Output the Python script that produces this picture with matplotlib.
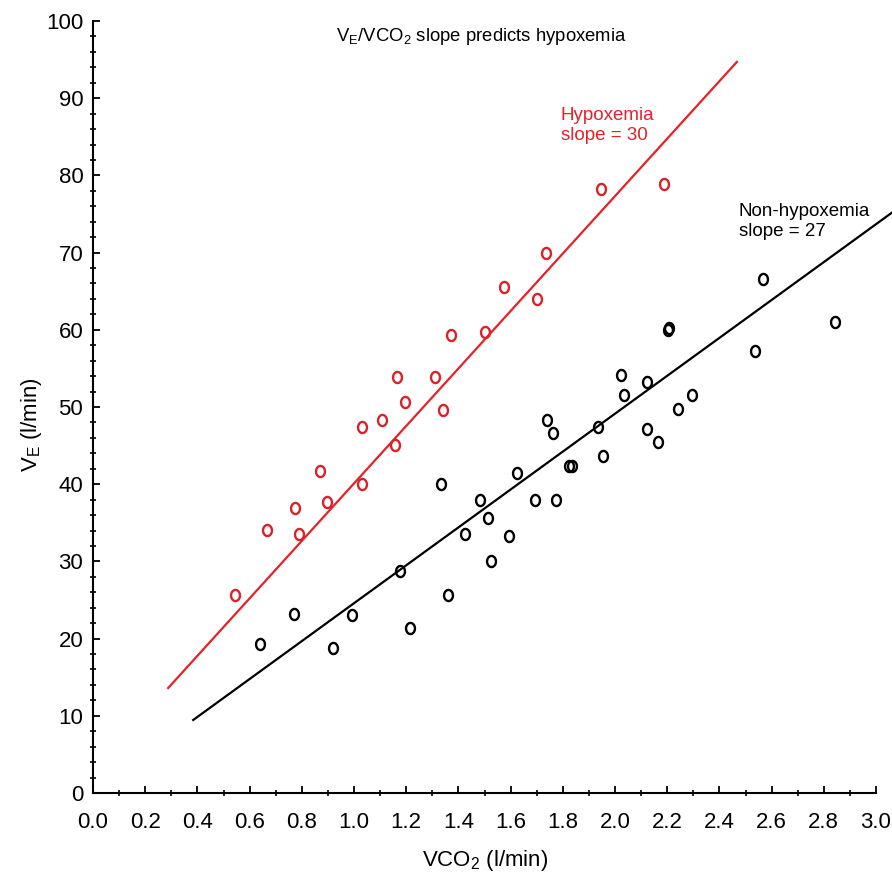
import numpy as np
import matplotlib
matplotlib.use("Agg")
import matplotlib.pyplot as plt
from matplotlib.path import Path
from matplotlib.ticker import MultipleLocator, FormatStrFormatter

# ---------- data ----------
# Hypoxemia group (red)
hyp_x = [0.543, 0.667, 0.774, 0.790, 0.868, 0.898, 1.031, 1.031, 1.107, 1.157,
         1.164, 1.194, 1.310, 1.342, 1.370, 1.502, 1.575, 1.703, 1.735, 1.946, 2.189]
hyp_y = [25.7, 34.1, 36.9, 33.6, 41.7, 37.7, 40.0, 47.4, 48.3, 45.1,
         53.9, 50.6, 53.9, 49.6, 59.3, 59.7, 65.5, 64.0, 70.0, 78.2, 78.9]

# Non-hypoxemia group (black)
non_x = [0.641, 0.769, 0.920, 0.992, 1.175, 1.214, 1.332, 1.360, 1.424, 1.483,
         1.514, 1.524, 1.594, 1.624, 1.694, 1.741, 1.763, 1.774, 1.825, 1.834,
         1.935, 1.954, 2.024, 2.035, 2.124, 2.124, 2.165, 2.203, 2.205, 2.243,
         2.294, 2.537, 2.568, 2.844]
non_y = [19.3, 23.2, 18.8, 23.1, 28.7, 21.4, 40.0, 25.6, 33.5, 38.0,
         35.6, 30.1, 33.3, 41.4, 37.9, 48.3, 46.6, 38.0, 42.3, 42.3,
         47.4, 43.6, 54.1, 51.6, 53.3, 47.1, 45.5, 60.0, 60.2, 49.7,
         51.5, 57.3, 66.6, 61.0]

# regression lines (end points as drawn)
hyp_line_x = [0.288, 2.467]
hyp_line_y = [13.6, 94.7]
non_line_x = [0.384, 3.066]
non_line_y = [9.46, 75.3]

RED = "#e8202a"
NARROW = ["Liberation Sans Narrow", "Liberation Sans", "DejaVu Sans"]
REG = ["Liberation Sans", "DejaVu Sans"]

plt.rcParams["font.family"] = NARROW

# slightly tall open "o" marker
t = np.linspace(0, 2 * np.pi, 60)
oval = Path(np.column_stack([0.8 * np.cos(t), np.sin(t)]), closed=True)

W, H = 892, 874
fig = plt.figure(figsize=(W / 100, H / 100), dpi=100)
ax = fig.add_axes([93 / W, 1 - 793 / H, (876 - 93) / W, (793 - 21) / H])

ax.plot(hyp_line_x, hyp_line_y, color=RED, lw=1.6, clip_on=False)
ax.plot(non_line_x, non_line_y, color="black", lw=1.6, clip_on=False)
ax.plot(hyp_x, hyp_y, ls="none", marker=oval, ms=8, mfc="none", mec="#d8232c",
        mew=1.7, clip_on=False)
ax.plot(non_x, non_y, ls="none", marker=oval, ms=8, mfc="none", mec="black",
        mew=1.7, clip_on=False)

ax.set_xlim(0, 3.0)
ax.set_ylim(0, 100)
ax.xaxis.set_major_locator(MultipleLocator(0.2))
ax.xaxis.set_minor_locator(MultipleLocator(0.1))
ax.xaxis.set_major_formatter(FormatStrFormatter("%.1f"))
ax.yaxis.set_major_locator(MultipleLocator(10))
ax.yaxis.set_minor_locator(MultipleLocator(2))

for s in ["top", "right"]:
    ax.spines[s].set_visible(False)
for s in ["left", "bottom"]:
    ax.spines[s].set_linewidth(1.5)

ax.tick_params(which="major", direction="in", length=5, width=1.3, labelsize=16)
ax.tick_params(which="minor", direction="inout", length=4, width=1.2)
ax.tick_params(axis="x", which="major", pad=14)
ax.tick_params(axis="y", which="major", pad=7)

# title and labels
fig.text(336 / W, 1 - 41 / H, r"V$_\mathregular{E}$/VCO$_\mathregular{2}$ slope predicts hypoxemia",
         fontsize=13.3, family=REG, ha="left", va="baseline")
fig.text(485 / W, 1 - 866 / H, r"VCO$_\mathregular{2}$ (l/min)", fontsize=16,
         ha="center", va="baseline")
fig.text(32 / W, 1 - 425 / H, r"V$_\mathregular{E}$ (l/min)", fontsize=16,
         rotation=90, ha="center", va="center")

fig.text(561 / W, 1 - 140 / H, "Hypoxemia\nslope = 30", color=RED, fontsize=13.5,
         family=REG, ha="left", va="baseline", linespacing=1.25)
fig.text(739 / W, 1 - 236 / H, "Non-hypoxemia\nslope = 27", color="black",
         fontsize=13.5, family=REG, ha="left", va="baseline", linespacing=1.25)

fig.savefig("out.png", dpi=100)
